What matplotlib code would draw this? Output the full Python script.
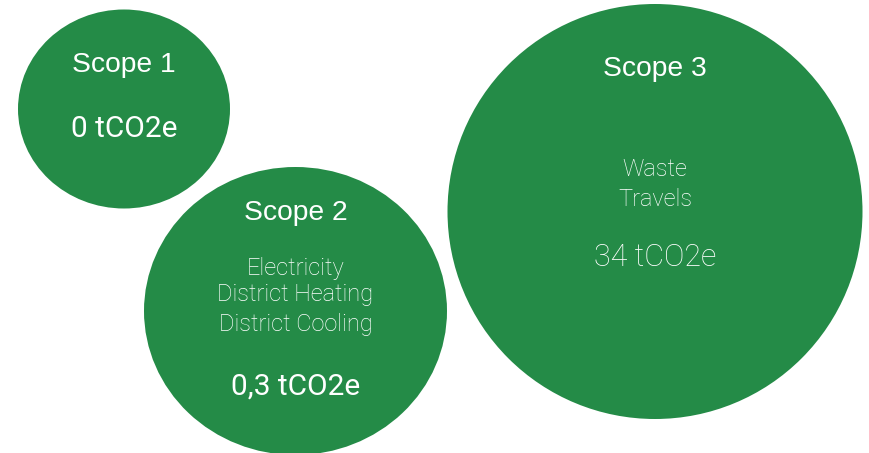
import matplotlib
matplotlib.use("Agg")
import matplotlib.pyplot as plt
from matplotlib.patches import Ellipse

# bubbles: centre and size in pixels
scopes = ["Scope 1", "Scope 2", "Scope 3"]
centres = [(124, 109), (295.5, 311), (655, 211.5)]
widths = [212, 303, 415]
heights = [199, 288, 415]
values = ["0 tCO2e", "0,3 tCO2e", "34 tCO2e"]
sources = [[], ["Electricity", "District Heating", "District Cooling"], ["Waste", "Travels"]]

# text baselines (pixels from top)
title_y = [72, 220, 76.5]
value_y = [137, 395, 266.5]
source_y = [[], [275, 301, 331], [176.5, 205.5]]
value_weight = ["normal", "normal", "light"]
value_size = [21.5, 21.5, 22]

green = "#248B47"

fig = plt.figure(figsize=(8.7, 4.53), dpi=100)
ax = fig.add_axes([0, 0, 1, 1])
ax.set_xlim(0, 870)
ax.set_ylim(453, 0)
ax.axis("off")

for i in range(len(scopes)):
    cx, cy = centres[i]
    ax.add_patch(Ellipse((cx, cy), widths[i], heights[i], color=green, lw=0))
    ax.text(cx, title_y[i], scopes[i], color="white", ha="center", va="baseline",
            fontsize=20.3, family="Liberation Sans")
    ax.text(cx, value_y[i], values[i], color="white", ha="center", va="baseline",
            fontsize=value_size[i], family="Roboto", fontweight=value_weight[i])
    for s, y in zip(sources[i], source_y[i]):
        ax.text(cx, y, s, color="white", ha="center", va="baseline",
                fontsize=17, family="Roboto", fontweight="light")

fig.savefig("out.png", dpi=100)
